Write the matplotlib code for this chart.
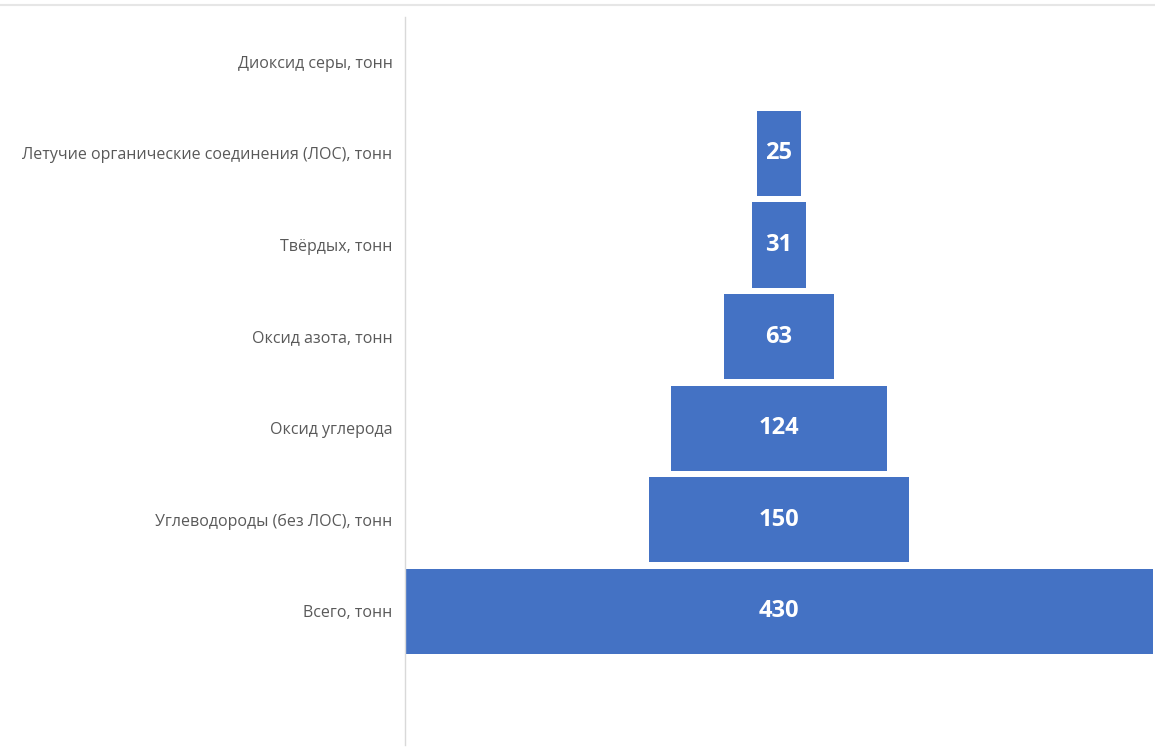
import matplotlib
matplotlib.use("Agg")
import matplotlib.pyplot as plt
from matplotlib.lines import Line2D

categories = ["Всего, тонн", "Углеводороды (без ЛОС), тонн", "Оксид углерода",
              "Оксид азота, тонн", "Твёрдых, тонн",
              "Летучие органические соединения (ЛОС), тонн", "Диоксид серы, тонн"]
values = [430, 150, 124, 63, 31, 25, 0]

plt.rcParams['font.family'] = ['Open Sans', 'DejaVu Sans']

W, H = 1155, 753
fig = plt.figure(figsize=(W / 100, H / 100), dpi=100)
ax = fig.add_axes([405 / W, 1 - 745 / H, (1153 - 405) / W, (745 - 17) / H])

total = max(values)
ypos = list(range(len(categories)))
lefts = [(total - v) / 2 for v in values]
ax.barh(ypos, values, left=lefts, height=0.93, color='#4472C4')
for y, v, l in zip(ypos, values, lefts):
    if v > 0:
        ax.text(l + v / 2, y, str(v), ha='center', va='center', color='white',
                fontsize=17, fontweight='bold')

ax.set_xlim(0, total)
ax.set_ylim(-1.46, 6.49)
ax.set_yticks(ypos)
ax.set_yticklabels(categories, fontsize=11.5, color='#595959')
ax.tick_params(axis='y', length=0, pad=9)
ax.set_xticks([])
for s in ['top', 'right', 'bottom']:
    ax.spines[s].set_visible(False)
ax.spines['left'].set_color('#d9d9d9')
ax.spines['left'].set_linewidth(1)

fig.add_artist(Line2D([0, 1], [1 - 5 / H, 1 - 5 / H], transform=fig.transFigure,
                      color='#e6e6e6', linewidth=1.5))

fig.savefig("out.png", dpi=100)
